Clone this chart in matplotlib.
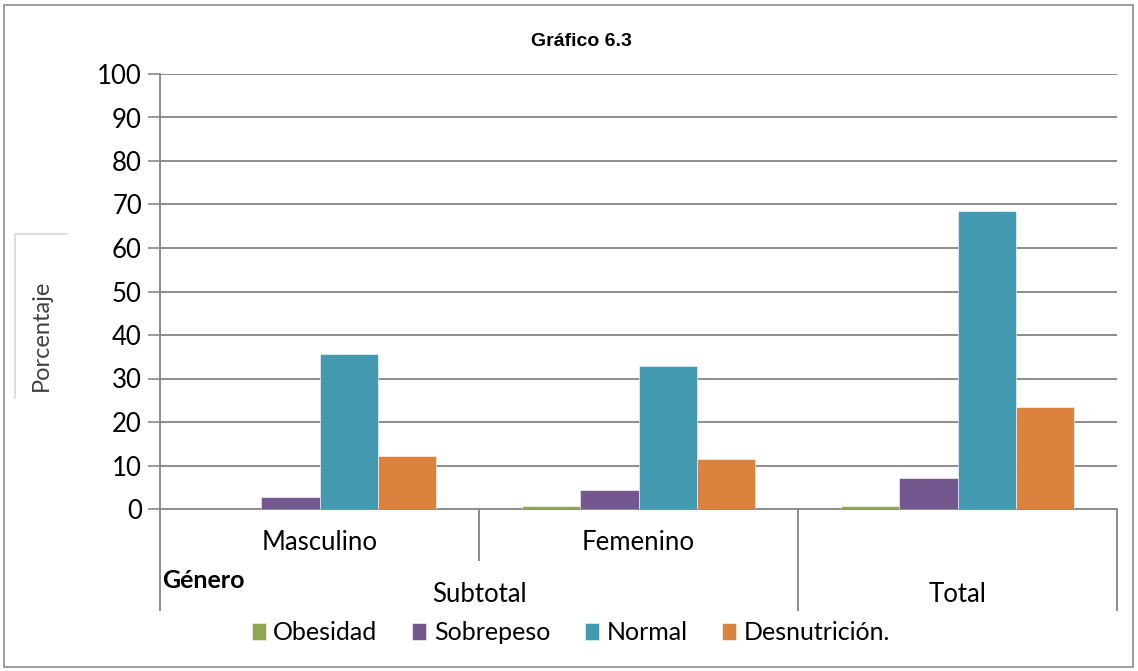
import matplotlib.pyplot as plt
import numpy as np
from matplotlib.lines import Line2D
from matplotlib.patches import Rectangle

plt.rcParams['font.family'] = ['Lato', 'DejaVu Sans']

categories = ['Masculino', 'Femenino', 'Total']
series = ['Obesidad', 'Sobrepeso', 'Normal', 'Desnutrición.']
values = {
    'Obesidad': [0.0, 0.6, 0.6],
    'Sobrepeso': [2.8, 4.3, 7.2],
    'Normal': [35.6, 32.9, 68.6],
    'Desnutrición.': [12.2, 11.5, 23.5],
}
colors = ['#8ea84c', '#72588f', '#4299b0', '#db833e']
yticks = list(range(0, 101, 10))

W, H = 1138, 671
fig = plt.figure(figsize=(W / 100, H / 100), dpi=100)
ax = fig.add_axes([160 / W, 162 / H, 957 / W, 435 / H])

x = np.arange(len(categories))
bw = 0.182
for i, s in enumerate(series):
    ax.bar(x + (i - 1.5) * bw, values[s], bw, color=colors[i], label=s,
           zorder=3, edgecolor='white', linewidth=0.4)

ax.set_xlim(-0.5, 2.5)
ax.set_ylim(0, 100)
ax.set_yticks(yticks)
ax.tick_params(axis='y', labelsize=18.5, length=9, color='#888888', pad=4, width=1.2)
ax.set_xticks([])
ax.grid(axis='y', color='#8c8c8c', linewidth=1.4, zorder=0)
for sp in ['top', 'right']:
    ax.spines[sp].set_visible(False)
ax.spines['left'].set_color('#8c8c8c')
ax.spines['left'].set_linewidth(1.4)
ax.spines['bottom'].set_color('#8c8c8c')
ax.spines['bottom'].set_linewidth(1.4)

# category axis separators
tr = ax.get_xaxis_transform()
for xv, depth in [(-0.5, 101), (0.5, 51), (1.5, 101), (2.5, 101)]:
    ax.plot([xv, xv], [0, -depth / 435], transform=tr, color='#8c8c8c',
            lw=1.4, clip_on=False)

for xi, c in zip(x, categories[:2]):
    ax.text(xi, -34 / 435, c, transform=tr, ha='center', va='center', fontsize=18.5)
ax.text(0.5, -86 / 435, 'Subtotal', transform=tr, ha='center', va='center', fontsize=18.5)
ax.text(2, -86 / 435, 'Total', transform=tr, ha='center', va='center', fontsize=18.5)
fig.text(162 / W, 1 - 581 / H, 'Género', fontsize=18, fontweight='bold',
         ha='left', va='center')

fig.text(581 / W, 1 - 42 / H, 'Gráfico 6.3', fontsize=14, fontweight='bold',
         ha='center', va='center', family='Liberation Sans')

# y label with light frame
fig.text(41 / W, 1 - 335 / H, 'Porcentaje', rotation=90, fontsize=17,
         ha='center', va='center', color='#404040')
fig.add_artist(Line2D([15 / W, 15 / W], [1 - 398 / H, 1 - 234 / H], color='#d9d9d9', lw=1.2))
fig.add_artist(Line2D([15 / W, 67 / W], [1 - 234 / H, 1 - 234 / H], color='#d9d9d9', lw=1.2))

# outer border
fig.add_artist(Rectangle((4 / W, 4 / H), 1 - 9 / W, 1 - 9 / H, fill=False,
                         edgecolor='#8c8c8c', lw=1.2, transform=fig.transFigure))

fig.legend(loc='center', bbox_to_anchor=(571 / W, 1 - 633 / H), ncol=4,
           frameon=False, fontsize=18, handlelength=0.55, handleheight=0.65,
           handletextpad=0.3, columnspacing=1.4)

fig.savefig('out.png', dpi=100)
